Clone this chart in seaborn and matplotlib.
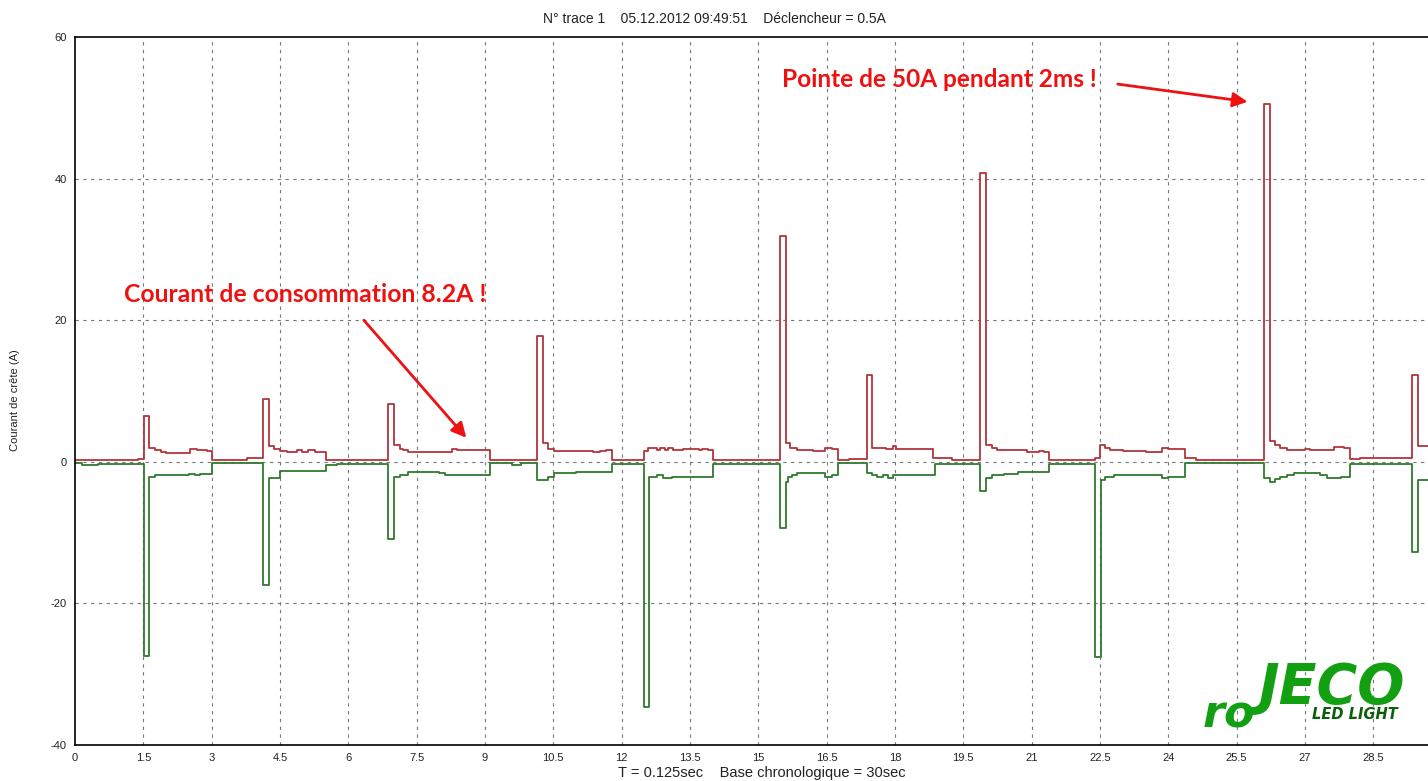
import matplotlib
matplotlib.use("Agg")
import matplotlib.pyplot as plt
import seaborn as sns
import numpy as np
from matplotlib.ticker import MultipleLocator, FuncFormatter

# ---------------- data (step traces: change time [s], level [A]) ----------------
red_t = [0.0, 1.38, 1.51, 1.635, 1.76, 1.88, 2.0, 2.52, 2.67, 2.89, 3.0, 3.77,
         4.13, 4.255, 4.37, 4.49, 4.65, 4.87, 4.98, 5.12, 5.27, 5.5, 6.04,
         6.88, 7.005, 7.13, 7.2, 7.31, 8.27, 8.38, 9.11,
         10.14, 10.265, 10.39, 10.52, 11.38, 11.53, 11.65, 11.78,
         12.48, 12.58, 12.77, 12.84, 12.95, 13.02, 13.13, 13.35, 13.7, 13.76, 13.89, 14.01,
         15.48, 15.605, 15.7, 15.84, 16.2, 16.47, 16.62, 16.74, 17.0,
         17.38, 17.505, 17.8, 17.95, 18.03, 18.84, 19.25,
         19.87, 19.995, 20.12, 20.23, 20.89, 21.15, 21.26, 21.39,
         22.39, 22.5, 22.61, 22.72, 23.0, 23.5, 23.86, 24.0, 24.37, 24.6,
         26.09, 26.23, 26.34, 26.45, 26.6, 27.0, 27.1, 27.63, 27.85, 27.99, 28.2,
         29.35, 29.49, 29.75]
red_v = [0.3, 0.45, 6.4, 2.0, 1.6, 1.4, 1.3, 1.8, 1.7, 1.5, 0.3, 0.5,
         8.9, 2.2, 1.8, 1.5, 1.4, 1.6, 1.4, 1.6, 1.4, 0.3, 0.2,
         8.2, 2.4, 1.8, 1.7, 1.4, 1.8, 1.7, 0.3,
         17.8, 2.7, 1.8, 1.5, 1.4, 1.5, 1.6, 0.3,
         1.5, 2.0, 1.7, 2.0, 1.6, 2.0, 1.7, 1.8, 1.6, 1.8, 1.6, 0.3,
         31.9, 2.6, 2.0, 1.7, 1.5, 2.0, 1.8, 0.3, 0.4,
         12.3, 2.0, 1.8, 2.3, 1.8, 0.6, 0.3,
         40.8, 2.4, 2.0, 1.6, 1.4, 1.5, 1.4, 0.3,
         0.6, 2.4, 2.0, 1.7, 1.5, 1.4, 2.0, 1.8, 0.5, 0.3,
         50.6, 2.9, 2.4, 2.0, 1.7, 1.8, 1.7, 2.1, 2.0, 0.4, 0.5,
         12.3, 2.2, 2.2]

green_t = [0.0, 0.15, 0.5, 1.51, 1.635, 1.76, 2.5, 2.63, 2.75, 3.0,
           4.13, 4.255, 4.51, 5.5, 5.75,
           6.88, 7.005, 7.13, 7.31, 7.75, 8.0, 8.13, 8.27, 9.0, 9.11, 9.6, 9.8,
           10.14, 10.39, 10.52, 11.0, 11.78,
           12.48, 12.605, 12.77, 12.9, 13.1, 14.01,
           15.48, 15.6, 15.65, 15.73, 15.84, 16.47, 16.62, 16.74,
           17.38, 17.5, 17.6, 17.74, 17.84, 17.96, 18.87,
           19.87, 20.0, 20.13, 20.4, 20.7, 21.39,
           22.39, 22.515, 22.6, 22.8, 23.86, 24.0, 24.37,
           26.09, 26.23, 26.34, 26.45, 26.6, 26.75, 27.34, 27.48, 27.78, 27.99,
           29.35, 29.49, 29.75]
green_v = [-0.2, -0.4, -0.3, -27.4, -2.2, -1.9, -1.7, -1.9, -1.7, -0.2,
           -17.4, -2.3, -1.3, -0.5, -0.3,
           -10.9, -2.2, -1.8, -1.5, -1.4, -1.6, -1.8, -1.9, -1.8, -0.2, -0.4, -0.2,
           -2.5, -2.1, -1.6, -1.5, -0.3,
           -34.7, -2.2, -1.9, -2.3, -2.1, -0.3,
           -9.3, -2.8, -2.2, -1.8, -1.6, -2.1, -1.9, -0.2,
           -1.6, -1.9, -2.1, -1.8, -2.3, -1.9, -0.3,
           -4.1, -2.3, -1.9, -1.7, -1.5, -0.3,
           -27.5, -2.5, -2.2, -1.9, -2.3, -2.2, -0.2,
           -2.3, -2.8, -2.4, -2.1, -1.8, -1.6, -1.8, -2.3, -2.1, -0.3,
           -12.7, -2.5, -2.5]

x_ticks = [0, 1.5, 3, 4.5, 6, 7.5, 9, 10.5, 12, 13.5, 15, 16.5, 18, 19.5, 21,
           22.5, 24, 25.5, 27, 28.5]
y_ticks = [-40, -20, 0, 20, 40, 60]

title_txt = "N° trace 1    05.12.2012 09:49:51    Déclencheur = 0.5A"
ylabel_txt = "Courant de crête (A)"
xlabel_txt = "T = 0.125sec    Base chronologique = 30sec"
note1 = "Courant de consommation 8.2A !"
note2 = "Pointe de 50A pendant 2ms !"

# ---------------- figure ----------------
sns.set_style("white")
plt.rcParams['font.family'] = ['Liberation Sans', 'DejaVu Sans']
plt.rcParams['axes.unicode_minus'] = False

W, H = 1428, 781
fig = plt.figure(figsize=(W / 100, H / 100), dpi=100)
ax = fig.add_axes([75 / W, 36 / H, 1 - 75 / W, (745 - 37) / H])

sns.lineplot(x=red_t, y=red_v, drawstyle='steps-post', estimator=None,
             color='#b3343a', lw=1.3, ax=ax)
sns.lineplot(x=green_t, y=green_v, drawstyle='steps-post', estimator=None,
             color='#2e7a2e', lw=1.3, ax=ax)

ax.set_xlim(0, 29.70)
ax.set_ylim(-40, 60)
ax.set_xticks(x_ticks)
ax.set_yticks(y_ticks)
ax.xaxis.set_major_formatter(FuncFormatter(lambda v, p: f"{v:g}"))
ax.xaxis.set_minor_locator(MultipleLocator(0.3))
ax.yaxis.set_minor_locator(MultipleLocator(2))
ax.tick_params(axis='both', which='major', direction='out', length=4, width=0.8,
               labelsize=8, colors='#222222', pad=2)
ax.tick_params(axis='both', which='minor', direction='out', length=2, width=0.6,
               colors='#222222')

for v in x_ticks[1:]:
    ax.axvline(v, color='#777777', lw=0.8, ls=(0, (3, 4)), zorder=0)
for v in [-20, 0, 20, 40]:
    ax.axhline(v, color='#777777', lw=0.8, ls=(0, (3, 4)), zorder=0)

for s in ['left', 'bottom', 'top']:
    ax.spines[s].set_color('black')
    ax.spines[s].set_linewidth(1.2)
ax.spines['right'].set_visible(False)
ax.set_xlabel('')
ax.set_ylabel('')

fig.text(714 / W, 1 - 19 / H, title_txt, ha='center', va='center',
         fontsize=10, color='#222222')
fig.text(15 / W, 1 - 400 / H, ylabel_txt, rotation=90, ha='center',
         va='center', fontsize=8, color='#222222')
fig.text(762 / W, 1 - 773 / H, xlabel_txt, ha='center', va='center',
         fontsize=10.5, color='#222222')

# annotations
ax.text(5.05, 23.7, note1, ha='center', va='center', fontsize=17.8,
        fontweight='bold', color='#ee1111', family='Lato')
ax.annotate('', xy=(8.63, 3.1), xytext=(6.30, 20.3),
            arrowprops=dict(arrowstyle='-|>', color='#ee1111', lw=2,
                            mutation_scale=22))
ax.text(18.97, 54.0, note2, ha='center', va='center', fontsize=17.6,
        fontweight='bold', color='#ee1111', family='Lato')
ax.annotate('', xy=(25.8, 50.8), xytext=(22.83, 53.4),
            arrowprops=dict(arrowstyle='-|>', color='#ee1111', lw=2,
                            mutation_scale=22))

# logo
fig.text(1203 / W, 1 - 727 / H, "ro", fontsize=32, fontweight='heavy',
         fontstyle='italic', color='#12a012', ha='left', va='baseline',
         family='DejaVu Sans')
fig.text(1258 / W, 1 - 703 / H, "JECO", fontsize=40, fontweight='heavy',
         fontstyle='italic', color='#12a012', ha='left', va='baseline',
         family='DejaVu Sans')
fig.text(1312 / W, 1 - 719 / H, "LED LIGHT", fontsize=10.5, fontweight='bold',
         fontstyle='italic', color='#0a600a', ha='left', va='baseline',
         family='DejaVu Sans')

fig.savefig('out.png', dpi=100)
